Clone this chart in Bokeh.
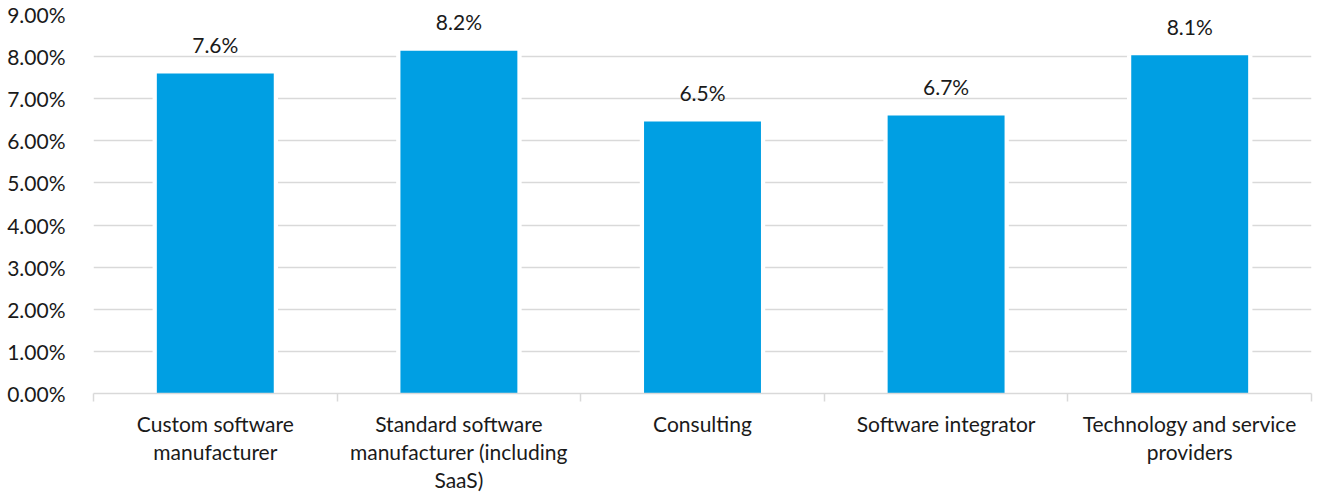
from bokeh.plotting import figure
from bokeh.models import Range1d, FixedTicker, PrintfTickFormatter, ColumnDataSource
from bokeh.core.properties import value
from bokeh.embed import file_html
from bokeh.resources import INLINE

categories = [
    "Custom software\nmanufacturer",
    "Standard software\nmanufacturer (including\nSaaS)",
    "Consulting",
    "Software integrator",
    "Technology and service\nproviders",
]
values = [7.60, 8.14, 6.46, 6.60, 8.03]
labels = ["7.6%", "8.2%", "6.5%", "6.7%", "8.1%"]
y_ticks = [0, 1, 2, 3, 4, 5, 6, 7, 8, 9]

FONT = "Lato"
BLUE = "#009FE3"
GRID = "#d9d9d9"
FS = "21px"
TXT = "#1a1a1a"

n = len(categories)
xs = [i + 0.5 for i in range(n)]
src = ColumnDataSource(dict(x=xs, top=values, label=labels))

p = figure(width=1319, height=498, output_backend="svg", toolbar_location=None,
           x_range=Range1d(0, n), y_range=Range1d(0, 9),
           min_border_left=93, min_border_right=8, min_border_top=14, min_border_bottom=105)
p.outline_line_color = None
p.background_fill_color = "white"

# white halo behind bars to break gridlines
p.vbar(x="x", top="top", bottom=0, width=0.515, source=src, fill_color="white", line_color=None)
p.vbar(x="x", top="top", bottom=0, width=0.48, source=src, fill_color=BLUE, line_color=None)

p.text(x="x", y="top", text="label", source=src, text_align="center", text_baseline="alphabetic",
       y_offset=-29, text_font=value(FONT), text_font_size=FS, text_color=TXT)

# x axis
p.xaxis.ticker = FixedTicker(ticks=xs, minor_ticks=list(range(n + 1)))
p.xaxis.major_label_overrides = {x: c for x, c in zip(xs, categories)}
p.xaxis.major_tick_line_color = None
p.xaxis.minor_tick_line_color = GRID
p.xaxis.minor_tick_line_width = 1.5
p.xaxis.minor_tick_out = 8
p.xaxis.minor_tick_in = 0
p.xaxis.axis_line_color = GRID
p.xaxis.axis_line_width = 1.5
p.xaxis.major_label_standoff = 9
p.xaxis.major_label_text_font = FONT
p.xaxis.major_label_text_font_size = FS
p.xaxis.major_label_text_color = TXT
p.xaxis.major_label_text_line_height = 1.12

# y axis
p.yaxis.ticker = FixedTicker(ticks=y_ticks)
p.yaxis.formatter = PrintfTickFormatter(format="%.2f%%")
p.yaxis.axis_line_color = None
p.yaxis.major_tick_line_color = None
p.yaxis.minor_tick_line_color = None
p.yaxis.major_label_standoff = 22
p.yaxis.major_label_text_font = FONT
p.yaxis.major_label_text_font_size = FS
p.yaxis.major_label_text_color = TXT

p.xgrid.grid_line_color = None
p.ygrid.grid_line_color = GRID
p.ygrid.grid_line_width = 1.5

open("out.html", "w").write(file_html(p, INLINE))
